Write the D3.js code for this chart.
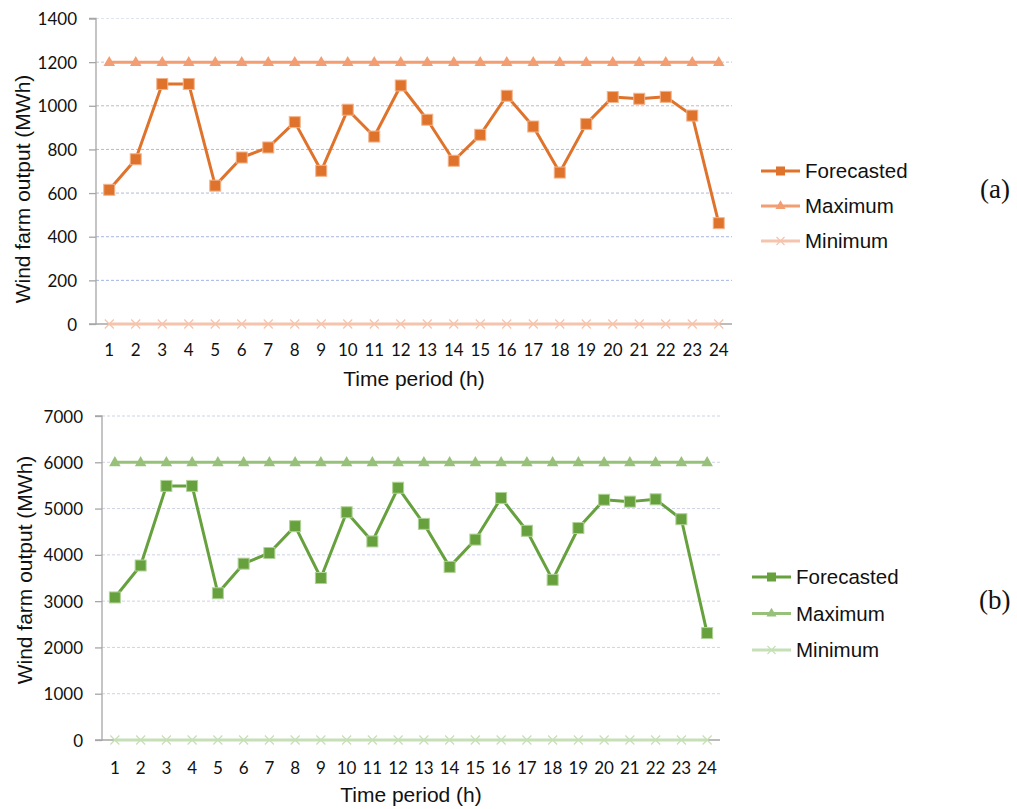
<!DOCTYPE html>
<html>
<head>
<meta charset="utf-8">
<script src="https://cdn.jsdelivr.net/npm/d3@7"></script>
<style>
  html, body { margin: 0; padding: 0; background: #fff; }
  svg { display: block; }
  .tick-label { font-family: Lato, "Open Sans", sans-serif; font-size: 17px; fill: #111; }
  .title { font-family: "Liberation Sans", Arial, sans-serif; font-size: 21px; fill: #111; }
  .legend-text { font-family: "Liberation Sans", Arial, sans-serif; font-size: 20.5px; fill: #111; }
  .panel-tag { font-family: "Liberation Serif", "Times New Roman", serif; font-size: 27px; fill: #111; }
</style>
</head>
<body>
<svg id="chart" width="1017" height="809"></svg>
<script>
// Hourly time periods (x categories)
const hours = [1, 2, 3, 4, 5, 6, 7, 8, 9, 10, 11, 12, 13, 14, 15, 16, 17, 18, 19, 20, 21, 22, 23, 24];

// Panel (a): wind farm output, MWh
const forecastA = [615, 755, 1100, 1100, 634, 763, 809, 925, 702, 982, 859, 1093,
                   936, 748, 867, 1046, 905, 694, 917, 1040, 1032, 1041, 955, 462];
const maximumA  = [1200, 1200, 1200, 1200, 1200, 1200, 1200, 1200, 1200, 1200, 1200, 1200,
                   1200, 1200, 1200, 1200, 1200, 1200, 1200, 1200, 1200, 1200, 1200, 1200];
const minimumA  = [0, 0, 0, 0, 0, 0, 0, 0, 0, 0, 0, 0, 0, 0, 0, 0, 0, 0, 0, 0, 0, 0, 0, 0];
const yTicksA   = [0, 200, 400, 600, 800, 1000, 1200, 1400];

// Panel (b): wind farm output, MWh
const forecastB = [3080, 3770, 5490, 5490, 3170, 3810, 4040, 4620, 3500, 4920, 4290, 5450,
                   4670, 3740, 4330, 5230, 4520, 3460, 4580, 5190, 5150, 5200, 4770, 2310];
const maximumB  = [6000, 6000, 6000, 6000, 6000, 6000, 6000, 6000, 6000, 6000, 6000, 6000,
                   6000, 6000, 6000, 6000, 6000, 6000, 6000, 6000, 6000, 6000, 6000, 6000];
const minimumB  = [0, 0, 0, 0, 0, 0, 0, 0, 0, 0, 0, 0, 0, 0, 0, 0, 0, 0, 0, 0, 0, 0, 0, 0];
const yTicksB   = [0, 1000, 2000, 3000, 4000, 5000, 6000, 7000];

const seriesNames = ["Forecasted", "Maximum", "Minimum"];

const svg = d3.select("#chart");

function drawPanel(opt) {
  const g = svg.append("g");
  const x = d3.scalePoint().domain(hours).range([opt.left, opt.right]).padding(0.5);
  const y = d3.scaleLinear().domain([0, opt.yMax]).range([opt.bottom, opt.top]);

  // dashed horizontal gridlines
  g.selectAll("line.grid").data(opt.yTicks.filter(d => d > 0)).join("line")
    .attr("class", "grid")
    .attr("x1", opt.left).attr("x2", opt.right)
    .attr("y1", d => y(d)).attr("y2", d => y(d))
    .attr("stroke", d => opt.gridColor(d))
    .attr("stroke-width", 1)
    .attr("stroke-dasharray", "3,2");

  // y axis
  const yAxis = d3.axisLeft(y).tickValues(opt.yTicks).tickSize(7).tickFormat(d3.format("d"));
  const ya = g.append("g").attr("transform", `translate(${opt.left},0)`).call(yAxis);
  ya.select(".domain").attr("stroke", "#a6a6a6").attr("stroke-width", 1.3).attr("d", `M-7,${opt.top}H0V${opt.bottom}H-7`);
  ya.selectAll(".tick line").attr("stroke", "#a6a6a6").attr("stroke-width", 1.3);
  ya.selectAll(".tick text").attr("class", "tick-label").attr("x", -19).attr("dy", "0.36em")
    .attr("fill", null).attr("font-family", null).attr("font-size", null);

  // x axis baseline
  g.append("line")
    .attr("x1", opt.left).attr("x2", opt.right)
    .attr("y1", y(0)).attr("y2", y(0))
    .attr("stroke", "#a6a6a6").attr("stroke-width", 1.3);

  // x tick labels
  g.selectAll("text.xt").data(hours).join("text")
    .attr("class", "tick-label")
    .attr("x", d => x(d)).attr("y", opt.bottom + opt.xLabelOffset)
    .attr("text-anchor", "middle")
    .text(d => d);

  // axis titles
  g.append("text").attr("class", "title")
    .attr("x", (opt.left + opt.right) / 2).attr("y", opt.xTitleY)
    .attr("text-anchor", "middle").text("Time period (h)");
  g.append("text").attr("class", "title")
    .attr("transform", `translate(${opt.yTitleX},${opt.yTitleCY}) rotate(-90)`)
    .attr("text-anchor", "middle").text("Wind farm output (MWh)");

  const line = d3.line().x((d, i) => x(hours[i])).y(d => y(d));
  const c = opt.colors;

  // Minimum series
  g.append("path").datum(opt.min).attr("d", line)
    .attr("fill", "none").attr("stroke", c.min).attr("stroke-width", 3);
  g.selectAll("path.xm").data(opt.min).join("path")
    .attr("d", (d, i) => { const px = x(hours[i]), py = y(d), r = 4.5;
      return `M${px - r},${py - r}L${px + r},${py + r}M${px - r},${py + r}L${px + r},${py - r}`; })
    .attr("stroke", c.min).attr("stroke-width", 1.2).attr("fill", "none");

  // Maximum series
  g.append("path").datum(opt.max).attr("d", line)
    .attr("fill", "none").attr("stroke", c.max).attr("stroke-width", 3);
  const tri = d3.symbol().type(d3.symbolTriangle).size(58);
  g.selectAll("path.tm").data(opt.max).join("path")
    .attr("transform", (d, i) => `translate(${x(hours[i])},${y(d) + 0.5})`)
    .attr("d", tri()).attr("fill", c.max);

  // Forecasted series
  g.append("path").datum(opt.fc).attr("d", line)
    .attr("fill", "none").attr("stroke", c.fc).attr("stroke-width", 3).attr("stroke-linejoin", "round");
  g.selectAll("rect.sq").data(opt.fc).join("rect")
    .attr("x", (d, i) => x(hours[i]) - 5.5).attr("y", d => y(d) - 5.5)
    .attr("width", 11).attr("height", 11)
    .attr("fill", c.fc).attr("stroke", c.fcEdge).attr("stroke-width", 1);

  // legend
  const lg = g.append("g");
  seriesNames.forEach((name, i) => {
    const ly = opt.legendY + i * opt.legendGap;
    const lx0 = opt.legendX, lx1 = opt.legendX + 39, cx = (lx0 + lx1) / 2;
    const col = i === 0 ? c.fc : i === 1 ? c.max : c.min;
    lg.append("line").attr("x1", lx0).attr("x2", lx1).attr("y1", ly).attr("y2", ly)
      .attr("stroke", col).attr("stroke-width", 3);
    if (i === 0) {
      lg.append("rect").attr("x", cx - 4.5).attr("y", ly - 4.5).attr("width", 9).attr("height", 9).attr("fill", col);
    } else if (i === 1) {
      lg.append("path").attr("transform", `translate(${cx},${ly})`)
        .attr("d", d3.symbol().type(d3.symbolTriangle).size(44)()).attr("fill", col);
    } else {
      const r = 4;
      lg.append("path").attr("d", `M${cx - r},${ly - r}L${cx + r},${ly + r}M${cx - r},${ly + r}L${cx + r},${ly - r}`)
        .attr("stroke", col).attr("stroke-width", 1.2);
    }
    lg.append("text").attr("class", "legend-text")
      .attr("x", lx1 + 5).attr("y", ly + 7).text(name);
  });

  g.append("text").attr("class", "panel-tag")
    .attr("x", opt.tagX).attr("y", opt.tagY).text(opt.tag);
}

drawPanel({
  fc: forecastA, max: maximumA, min: minimumA, yTicks: yTicksA, yMax: 1400,
  left: 96, right: 732, top: 18.5, bottom: 324,
  xLabelOffset: 32, xTitleY: 386, yTitleX: 30, yTitleCY: 189,
  legendX: 761, legendY: 171, legendGap: 35,
  tag: "(a)", tagX: 980, tagY: 198,
  colors: { fc: "#e0732c", fcEdge: "#f2b48c", max: "#f29d72", min: "#f6c3ac" },
  gridColor: d => ({ 200: "#a3b4ea", 400: "#a9b7e4", 600: "#b3b9d4", 800: "#b9b9c4",
                     1000: "#bbbbc3", 1200: "#c4c4cc", 1400: "#e0e4f0" })[d]
});

drawPanel({
  fc: forecastB, max: maximumB, min: minimumB, yTicks: yTicksB, yMax: 7000,
  left: 102, right: 720, top: 416, bottom: 740,
  xLabelOffset: 34, xTitleY: 802, yTitleX: 32, yTitleCY: 570,
  legendX: 752, legendY: 577, legendGap: 36.5,
  tag: "(b)", tagX: 979, tagY: 609,
  colors: { fc: "#67a13e", fcEdge: "#b0d297", max: "#97c17a", min: "#c6dfb6" },
  gridColor: d => "#cfd3e4"
});
</script>
</body>
</html>
